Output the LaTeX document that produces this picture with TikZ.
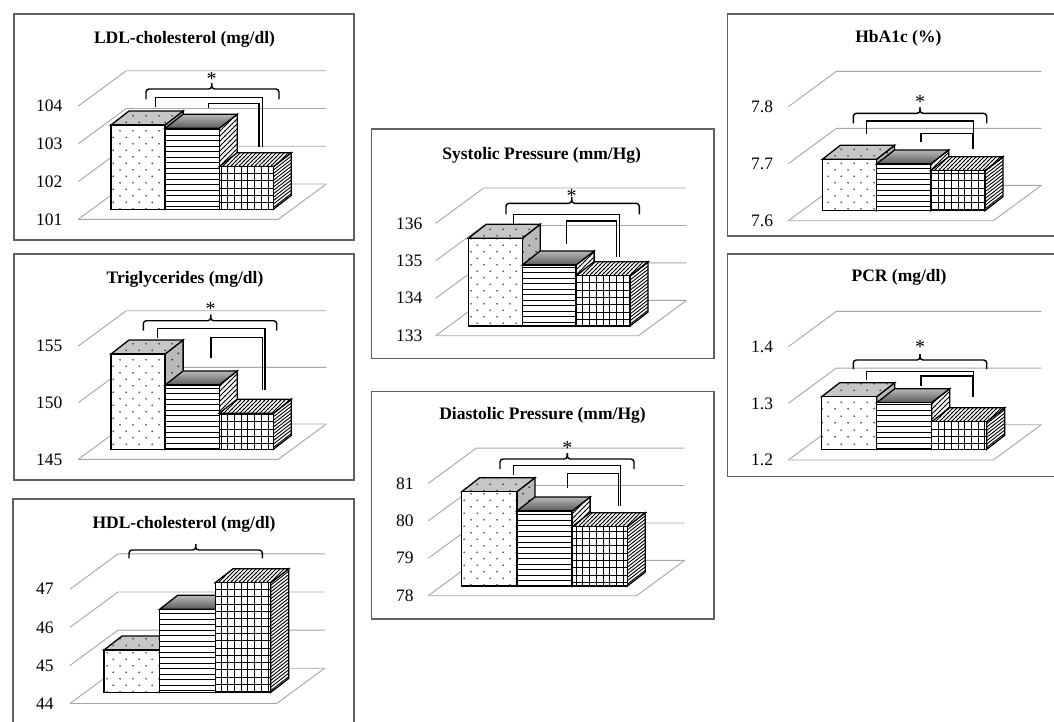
\documentclass[tikz,border=0pt]{standalone}
\usepackage{fontspec}
\setmainfont{Liberation Serif}
\usetikzlibrary{patterns}

\pgfdeclarepatternformonly{pdots}{\pgfqpoint{0pt}{0pt}}{\pgfqpoint{13pt}{13.4pt}}{\pgfqpoint{13pt}{13.4pt}}{%
  \pgfpathcircle{\pgfqpoint{3.25pt}{3.35pt}}{1pt}%
  \pgfpathcircle{\pgfqpoint{9.75pt}{10.05pt}}{1pt}%
  \pgfusepath{fill}}
\pgfdeclarepatternformonly{phl}{\pgfqpoint{-1pt}{0pt}}{\pgfqpoint{11pt}{5.5pt}}{\pgfqpoint{10pt}{5.5pt}}{%
  \pgfsetlinewidth{1pt}%
  \pgfpathmoveto{\pgfqpoint{-1pt}{2.75pt}}\pgfpathlineto{\pgfqpoint{11pt}{2.75pt}}%
  \pgfusepath{stroke}}
\pgfdeclarepatternformonly{pgrid}{\pgfqpoint{-1pt}{-1pt}}{\pgfqpoint{7.7pt}{8.3pt}}{\pgfqpoint{6.7pt}{7.3pt}}{%
  \pgfsetlinewidth{1pt}%
  \pgfpathmoveto{\pgfqpoint{0pt}{-0.5pt}}\pgfpathlineto{\pgfqpoint{0pt}{7.8pt}}%
  \pgfpathmoveto{\pgfqpoint{-0.5pt}{0pt}}\pgfpathlineto{\pgfqpoint{7.2pt}{0pt}}%
  \pgfusepath{stroke}}
\pgfdeclarepatternformonly{pne}{\pgfqpoint{-1pt}{-1pt}}{\pgfqpoint{6pt}{6pt}}{\pgfqpoint{5pt}{5pt}}{%
  \pgfsetlinewidth{0.9pt}%
  \pgfpathmoveto{\pgfqpoint{-0.5pt}{-0.5pt}}\pgfpathlineto{\pgfqpoint{5.5pt}{5.5pt}}%
  \pgfusepath{stroke}}
\pgfdeclarepatternformonly{pnedense}{\pgfqpoint{-1pt}{-1pt}}{\pgfqpoint{5pt}{5pt}}{\pgfqpoint{4pt}{4pt}}{%
  \pgfsetlinewidth{0.9pt}%
  \pgfpathmoveto{\pgfqpoint{-0.5pt}{-0.5pt}}\pgfpathlineto{\pgfqpoint{4.5pt}{4.5pt}}%
  \pgfusepath{stroke}}

\tikzset{
  gridln/.style={draw=gray!70, line width=0.9pt},
  boxln/.style={draw=gray!75!black, line width=1.2pt},
  barln/.style={draw=black, line width=1.3pt, line join=miter},
  brk/.style={draw=black, line width=1.4pt},
  ttl/.style={font=\bfseries\fontsize{17.5}{20}\selectfont, inner sep=0pt, anchor=base},
  ticklbl/.style={font=\fontsize{17.5}{20}\selectfont, inner sep=0pt, anchor=west},
  starlbl/.style={font=\fontsize{20}{22}\selectfont, inner sep=0pt, anchor=base},
  fa/.style={preaction={fill=white}, pattern=pdots, pattern color=gray!60!black},
  ta/.style={preaction={fill=gray!45}, pattern=pdots, pattern color=gray!50!black},
  sa/.style={preaction={fill=gray!55}, pattern=pdots, pattern color=gray!35!black},
  fb/.style={preaction={fill=white}, pattern=phl, pattern color=black},
  tb/.style={top color=gray!55, bottom color=black!65},
  sb/.style={preaction={fill=white}, pattern=pne, pattern color=black},
  fc/.style={preaction={fill=white}, pattern=pgrid, pattern color=black},
  tc/.style={preaction={fill=white}, pattern=pnedense, pattern color=black},
}

\newcommand\drawpanel{%
  \draw[boxln] (\pxa,\pya) rectangle (\pxb,\pyb);
  \node[ttl] (title\pid) at (\ptx,\pty) {\ptitle};
  \pgfmathsetmacro\pstep{\pH/\pn}
  \foreach \lab [count=\i from 0] in \plabels {
    \pgfmathsetmacro\yy{\poy-\i*\pstep}
    \draw[gridln] (\pox,\yy) -- ++(48,-35.3) -- ++(\pW,0);
    \node[ticklbl] (lbl\pid\i) at (\plx,\yy) {\lab};
  }
  \draw[gridln] (\pox,\poy) -- ++(\pW,0) -- ++(48,-35.3);
  \pgfmathsetmacro\xA{\pbx}
  \pgfmathsetmacro\xB{\pbx+\pbw}
  \pgfmathsetmacro\xC{\pbx+2*\pbw}
  \pgfmathsetmacro\xD{\pbx+3*\pbw}
  % bar 1
  \draw[barln, sa] (\xB,\pby) -- ++(0,-\phA) -- ++(18,-14) -- ++(0,\phA) -- cycle;
  \draw[barln, ta] (\xA,\pby-\phA) -- ++(18,-14) -- ++(\pbw,0) -- ++(-18,14) -- cycle;
  \draw[barln, fa] (\xA,\pby) rectangle ++(\pbw,-\phA);
  % bar 2
  \draw[barln, sb] (\xC,\pby) -- ++(0,-\phB) -- ++(18,-14) -- ++(0,\phB) -- cycle;
  \draw[barln, tb] (\xB,\pby-\phB) -- ++(18,-14) -- ++(\pbw,0) -- ++(-18,14) -- cycle;
  \draw[barln, fb] (\xB,\pby) rectangle ++(\pbw,-\phB);
  % bar 3
  \fill[white] (\xD,\pby) -- ++(0,-\phC) -- ++(18,-14) -- ++(0,\phC) -- cycle;
  \foreach \t in {1.8,5.2,...,\phC} {\draw[line width=0.9pt] (\xD,\pby-\t) -- ++(18,-14);}
  \draw[barln] (\xD,\pby) -- ++(0,-\phC) -- ++(18,-14) -- ++(0,\phC) -- cycle;
  \draw[barln, tc] (\xC,\pby-\phC) -- ++(18,-14) -- ++(\pbw,0) -- ++(-18,14) -- cycle;
  \draw[barln, fc] (\xC,\pby) rectangle ++(\pbw,-\phC);
  % brace
  \draw[brk, rounded corners=3pt] (\qxl,\qyb) -- (\qxl,\qyh) -- (\qxc,\qyh) -- (\qxc,\qyh-6);
  \draw[brk, rounded corners=3pt] (\qxr,\qyb) -- (\qxr,\qyh) -- (\qxc,\qyh) -- (\qxc,\qyh-6);
  \ifnum\pbr=1
    \node[starlbl] (star\pid) at (\qxc,\qstar+9) {*};
    \draw[brk] (\rxl,\rylb) |- (\rxr,\ryh) -- (\rxr,\ryrb);
    \draw[brk] (\sxl,\sylb) |- (\sxr,\syh) -- (\sxr,\syrb);
  \fi
}

\begin{document}
\begin{tikzpicture}[x=1pt,y=-1pt]
\useasboundingbox (0,0) rectangle (1054,721);
\fill[white] (0,0) rectangle (1054,721);

% LDL
\def\pid{a}
\def\pxa{14}\def\pya{14}\def\pxb{354}\def\pyb{240}
\def\ptitle{LDL-cholesterol (mg/dl)}\def\ptx{184.5}\def\pty{43.8}
\def\pox{78.3}\def\poy{219.3}\def\pW{200}\def\pH{113.3}\def\pn{3}\def\plabels{101,102,103,104}\def\plx{36}
\def\pbx{111}\def\pby{209.3}\def\pbw{54.1}\def\phA{84.3}\def\phB{81}\def\phC{42.6}
\def\pbr{1}
\def\qxl{146}\def\qxr{279}\def\qxc{211.7}\def\qyh{89}\def\qyb{99.3}\def\qstar{76}
\def\rxl{155.7}\def\rxr{262.3}\def\ryh{97.7}\def\rylb{107.3}\def\ryrb{147.3}
\def\sxl{208.3}\def\sxr{259}\def\syh{103.3}\def\sylb{108.3}\def\syrb{147.3}
\drawpanel

% Triglycerides
\def\pid{b}
\def\pxa{14}\def\pya{254}\def\pxb{354}\def\pyb{480}
\def\ptitle{Triglycerides (mg/dl)}\def\ptx{185}\def\pty{283.3}
\def\pox{78.3}\def\poy{459.3}\def\pW{200}\def\pH{113.3}\def\pn{2}\def\plabels{145,150,155}\def\plx{36}
\def\pbx{111}\def\pby{449.3}\def\pbw{54.1}\def\phA{95.3}\def\phB{64.3}\def\phC{36}
\def\pbr{1}
\def\qxl{143.3}\def\qxr{276.7}\def\qxc{210.7}\def\qyh{320.7}\def\qyb{330.7}\def\qstar{306.7}
\def\rxl{157.7}\def\rxr{265}\def\ryh{328.3}\def\rylb{338.3}\def\ryrb{390}
\def\sxl{211}\def\sxr{262.3}\def\syh{337.3}\def\sylb{358.3}\def\syrb{390}
\drawpanel

% HDL
\def\pid{c}
\def\pxa{13}\def\pya{499}\def\pxb{354}\def\pyb{760}
\def\ptitle{HDL-cholesterol (mg/dl)}\def\ptx{184}\def\pty{528.3}
\def\pox{70}\def\poy{703.5}\def\pW{206.7}\def\pH{114.3}\def\pn{3}\def\plabels{44,45,46,47}\def\plx{36}
\def\pbx{104}\def\pby{692.3}\def\pbw{55.6}\def\phA{42.3}\def\phB{83}\def\phC{109.6}
\def\pbr{0}
\def\qxl{129}\def\qxr{262.3}\def\qxc{195.7}\def\qyh{550}\def\qyb{558.3}\def\qstar{0}
\drawpanel

% Systolic
\def\pid{d}
\def\pxa{371.7}\def\pya{129}\def\pxb{714}\def\pyb{358.3}
\def\ptitle{Systolic Pressure (mm/Hg)}\def\ptx{541.7}\def\pty{159.5}
\def\pox{435.7}\def\poy{335.7}\def\pW{202.7}\def\pH{112.4}\def\pn{3}\def\plabels{133,134,135,136}\def\plx{396}
\def\pbx{468.3}\def\pby{326}\def\pbw{53.9}\def\phA{87.7}\def\phB{61}\def\phC{50.3}
\def\pbr{1}
\def\qxl{506}\def\qxr{639.3}\def\qxc{571.7}\def\qyh{203.3}\def\qyb{214.3}\def\qstar{193.3}
\def\rxl{513.3}\def\rxr{619.3}\def\ryh{214.3}\def\rylb{224}\def\ryrb{256.7}
\def\sxl{566.7}\def\sxr{616.7}\def\syh{221}\def\sylb{244}\def\syrb{256.7}
\drawpanel

% Diastolic
\def\pid{e}
\def\pxa{371.7}\def\pya{391.7}\def\pxb{714}\def\pyb{619}
\def\ptitle{Diastolic Pressure (mm/Hg)}\def\ptx{542.5}\def\pty{419.5}
\def\pox{428.3}\def\poy{595.7}\def\pW{208.3}\def\pH{112.3}\def\pn{3}\def\plabels{78,79,80,81}\def\plx{396}
\def\pbx{461.7}\def\pby{586}\def\pbw{55.2}\def\phA{94.3}\def\phB{75}\def\phC{59.3}
\def\pbr{1}
\def\qxl{500}\def\qxr{634}\def\qxc{567.3}\def\qyh{459}\def\qyb{469}\def\qstar{445}
\def\rxl{513.3}\def\rxr{620.7}\def\ryh{465.7}\def\rylb{475}\def\ryrb{505.7}
\def\sxl{567.3}\def\sxr{618.3}\def\syh{473.3}\def\sylb{488.3}\def\syrb{505.7}
\drawpanel

% HbA1c
\def\pid{f}
\def\pxa{727.7}\def\pya{14}\def\pxb{1069}\def\pyb{236}
\def\ptitle{HbA1c (\%)}\def\ptx{898.3}\def\pty{42.7}
\def\pox{788.3}\def\poy{220.7}\def\pW{205}\def\pH{114}\def\pn{2}\def\plabels{7.6,7.7,7.8}\def\plx{751}
\def\pbx{822.3}\def\pby{210.7}\def\pbw{54.2}\def\phA{51.4}\def\phB{46.7}\def\phC{40}
\def\pbr{1}
\def\qxl{853.3}\def\qxr{986.7}\def\qxc{920}\def\qyh{113.3}\def\qyb{123.3}\def\qstar{99.3}
\def\rxl{866.7}\def\rxr{973.3}\def\ryh{121}\def\rylb{134}\def\ryrb{149.3}
\def\sxl{921}\def\sxr{972.3}\def\syh{133.3}\def\sylb{141.7}\def\syrb{149.3}
\drawpanel

% PCR
\def\pid{g}
\def\pxa{727.7}\def\pya{254}\def\pxb{1069}\def\pyb{476.7}
\def\ptitle{PCR (mg/dl)}\def\ptx{899}\def\pty{281.7}
\def\pox{788.3}\def\poy{460}\def\pW{205}\def\pH{113.3}\def\pn{2}\def\plabels{1.2,1.3,1.4}\def\plx{751}
\def\pbx{821.7}\def\pby{449.3}\def\pbw{55}\def\phA{52.6}\def\phB{46.6}\def\phC{27.6}
\def\pbr{1}
\def\qxl{853.3}\def\qxr{986.7}\def\qxc{920}\def\qyh{360}\def\qyb{369}\def\qstar{344.3}
\def\rxl{866.7}\def\rxr{973.3}\def\ryh{371.7}\def\rylb{380}\def\ryrb{396.7}
\def\sxl{921}\def\sxr{972.3}\def\syh{376}\def\sylb{386}\def\syrb{396.7}
\drawpanel
\end{tikzpicture}
\end{document}
